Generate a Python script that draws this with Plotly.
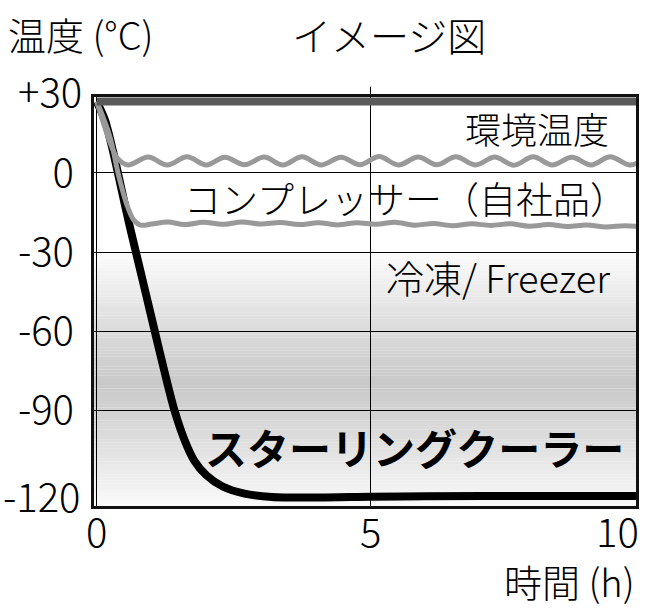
import plotly.graph_objects as go

# ---------------- data ----------------
X_TICKS = [0, 5, 10]
X_TICK_TEXT = ["0", "5", "10"]
Y_TICKS = [0, -30, -60, -90]
Y_TICK_TEXT = ["0", "-30", "-60", "-90"]

# ambient temperature (環境温度)
amb_x = [0, 10]
amb_y = [27, 27]

# compressor, upper (refrigerator level)
up_x = [0, 0.12, 0.27, 0.38, 0.57, 0.94, 1.29, 1.65, 2.00, 2.34, 2.70, 3.06, 3.40, 3.75, 4.10,
        4.46, 4.81, 5.16, 5.51, 5.87, 6.21, 6.56, 6.92, 7.27, 7.62, 7.97, 8.32, 8.68, 9.03,
        9.38, 9.73, 10.0]
up_y = [27, 19, 10, 5.5, 3.0, 6.0, 3.0, 6.1, 3.0, 5.9, 3.1, 6.0, 3.0, 6.1, 3.0,
        5.9, 3.1, 6.2, 3.0, 6.0, 3.1, 6.1, 3.0, 6.0, 2.9, 6.1, 3.0, 5.9, 3.0,
        6.1, 3.0, 5.0]

# compressor, lower (freezer level)
lo_x = [0, 0.1, 0.25, 0.4, 0.55, 0.68, 0.8, 1.0, 1.3, 1.6, 1.95, 2.3, 2.65, 3.0, 3.35, 3.7,
        4.05, 4.4, 4.75, 5.1, 5.45, 5.8, 6.15, 6.5, 6.85, 7.2, 7.55, 7.9, 8.25, 8.6, 8.95,
        9.3, 9.65, 10]
lo_y = [27, 22, 13, -1, -12, -18, -19.8, -19.4, -18.6, -19.6, -18.7, -19.5, -18.6, -19.4,
        -18.8, -19.6, -18.9, -19.7, -18.9, -19.5, -18.7, -19.8, -19.2, -20.0, -19.3, -19.9,
        -19.3, -20.2, -19.6, -20.3, -19.7, -20.5, -20.0, -20.6]

# Stirling cooler (スターリングクーラー)
st_x = [0, 0.15, 0.3, 0.45, 0.6, 0.75, 0.9, 1.06, 1.24, 1.42, 1.6, 1.78, 2.0, 2.3, 2.7, 3.2,
        4.0, 5.0, 6.0, 8.0, 10.0]
st_y = [27, 20, 8, -6, -20, -33, -46, -60, -75.5, -90, -101, -109, -114.5, -118.8, -121.5,
        -122.8, -123.0, -122.7, -122.5, -122.4, -122.4]

X_RANGE = [-0.05, 9.85]
Y_RANGE = [-126.2, 28.75]

# background gradient stops (value, grey level)
grad_stops = [(-126.2, 250), (-100, 220), (-80, 200), (-55, 224), (-30, 252)]

FONT = "Noto Sans CJK JP"

fig = go.Figure()

fig.add_trace(go.Scatter(x=st_x, y=st_y, mode="lines", line=dict(color="black", width=8, shape="spline", smoothing=0.8),
                         hoverinfo="skip", showlegend=False))
fig.add_trace(go.Scatter(x=lo_x, y=lo_y, mode="lines", line=dict(color="#999999", width=5, shape="spline", smoothing=1.0),
                         hoverinfo="skip", showlegend=False))
fig.add_trace(go.Scatter(x=up_x, y=up_y, mode="lines", line=dict(color="#999999", width=5, shape="spline", smoothing=1.0),
                         hoverinfo="skip", showlegend=False))
fig.add_trace(go.Scatter(x=amb_x, y=amb_y, mode="lines", line=dict(color="#5a5a5a", width=8),
                         hoverinfo="skip", showlegend=False))

# gradient bands (drawn below gridlines)
shapes = []
n_bands = 80
lo_v, hi_v = grad_stops[0][0], grad_stops[-1][0]
step = (hi_v - lo_v) / n_bands


def grey_at(v):
    for (a, ga), (b, gb) in zip(grad_stops[:-1], grad_stops[1:]):
        if a <= v <= b:
            t = (v - a) / (b - a)
            return int(round(ga + (gb - ga) * t))
    return 255


for i in range(n_bands):
    y0 = lo_v + i * step
    y1 = y0 + step
    g = grey_at((y0 + y1) / 2)
    shapes.append(dict(type="rect", xref="paper", x0=0, x1=1, yref="y", y0=y0, y1=y1 + 0.05,
                       fillcolor=f"rgb({g},{g},{g})", line=dict(width=0), layer="below"))

# small tick above the plot at x=5
shapes.append(dict(type="line", xref="x", x0=X_TICKS[1], x1=X_TICKS[1], yref="paper", y0=1, y1=1.025,
                   line=dict(color="black", width=1), layer="above"))


def tf(size, weight=300):
    return dict(size=size, family=FONT, color="black", weight=weight)


annotations = [
    dict(text="温度 (°C)", xref="paper", yref="paper", x=-0.16, y=1.155, xanchor="left", yanchor="middle",
         showarrow=False, borderpad=0, font=tf(38)),
    dict(text="イメージ図", xref="paper", yref="paper", x=0.364, y=1.155, xanchor="left", yanchor="middle",
         showarrow=False, borderpad=0, font=tf(39)),
    dict(text="時間 (h)", xref="paper", yref="paper", x=1.0, y=-0.183, xanchor="right", yanchor="middle",
         showarrow=False, borderpad=0, font=tf(38)),
    dict(text="+30", xref="paper", yref="paper", x=-0.02, y=1.018, xanchor="right", yanchor="middle",
         showarrow=False, borderpad=0, font=tf(40)),
    dict(text="-120", xref="paper", yref="y", x=-0.022, y=-120, yshift=-5, xanchor="right", yanchor="middle",
         showarrow=False, borderpad=0, font=tf(40)),
    dict(text="環境温度", xref="x", yref="y", x=9.4, y=17.0, xanchor="right", yanchor="middle",
         showarrow=False, font=tf(36)),
    dict(text="コンプレッサー（自社品）", xref="x", yref="y", x=9.72, y=-9.5, xanchor="right", yanchor="middle",
         showarrow=False, font=tf(37)),
    dict(text="冷凍/ Freezer", xref="x", yref="y", x=9.42, y=-39.4, xanchor="right", yanchor="middle",
         showarrow=False, font=tf(38)),
    dict(text="スターリングクーラー", xref="x", yref="y", x=9.67, y=-103.8, xanchor="right",
         yanchor="middle", showarrow=False, font=tf(42, 700)),
]

# x tick labels (placed just under the frame)
for v, t in zip(X_TICKS, X_TICK_TEXT):
    if v == X_TICKS[-1]:
        annotations.append(dict(text=t, xref="paper", yref="paper", x=1.008, y=-0.058, xanchor="right",
                                yanchor="middle", showarrow=False, borderpad=0, font=tf(40)))
    else:
        annotations.append(dict(text=t, xref="x", yref="paper", x=v, y=-0.058, xanchor="center",
                                yanchor="middle", showarrow=False, borderpad=0, font=tf(40)))

fig.update_layout(
    width=645, height=608,
    margin=dict(l=94, r=9, t=97, b=102, autoexpand=False),
    paper_bgcolor="white", plot_bgcolor="white",
    shapes=shapes, annotations=annotations,
    showlegend=False,
    xaxis=dict(range=X_RANGE, tickvals=X_TICKS, ticktext=X_TICK_TEXT, showticklabels=False, showgrid=True,
               gridcolor="black", gridwidth=1, zeroline=False, showline=True, linecolor="#111111", linewidth=3,
               mirror=True, automargin=False, ticks=""),
    yaxis=dict(range=Y_RANGE, tickvals=Y_TICKS, ticktext=Y_TICK_TEXT, showgrid=True, gridcolor="black",
               gridwidth=1, zeroline=False, showline=True, linecolor="#111111", linewidth=3, mirror=True,
               automargin=False, ticks="", ticklabelstandoff=9, tickfont=tf(40)),
)

fig.write_html("out.html", config={"displayModeBar": False},
               post_script="document.body.style.margin='0';document.body.style.overflow='hidden';")
